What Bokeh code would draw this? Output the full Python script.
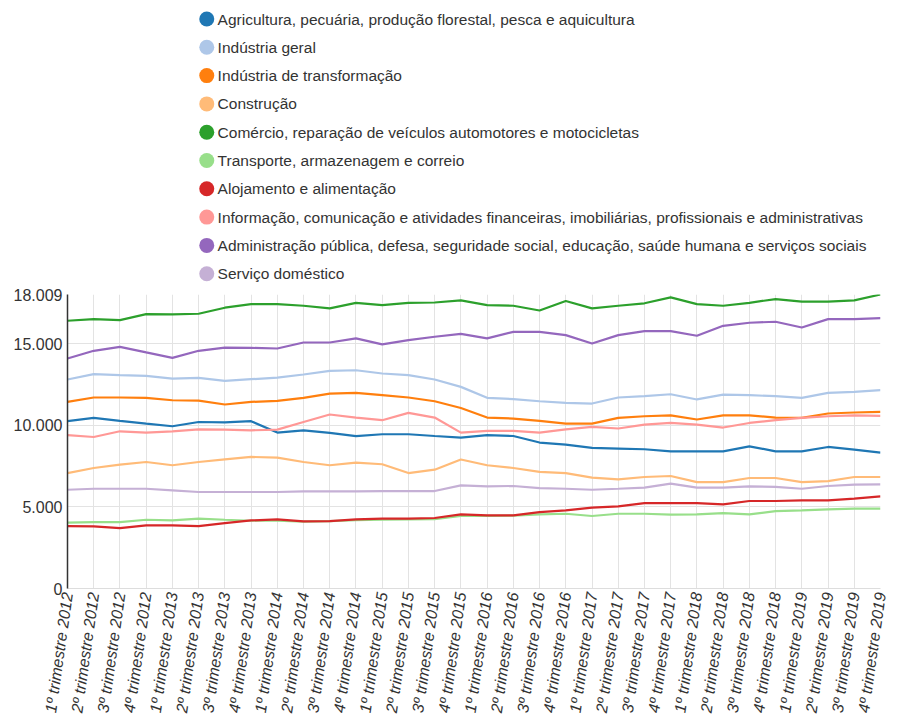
from bokeh.plotting import figure
from bokeh.models import FixedTicker, Range1d
from bokeh.layouts import column
from bokeh.embed import file_html
from bokeh.resources import INLINE
from bokeh.core.properties import value

quarters = [
    "1º trimestre 2012", "2º trimestre 2012", "3º trimestre 2012", "4º trimestre 2012",
    "1º trimestre 2013", "2º trimestre 2013", "3º trimestre 2013", "4º trimestre 2013",
    "1º trimestre 2014", "2º trimestre 2014", "3º trimestre 2014", "4º trimestre 2014",
    "1º trimestre 2015", "2º trimestre 2015", "3º trimestre 2015", "4º trimestre 2015",
    "1º trimestre 2016", "2º trimestre 2016", "3º trimestre 2016", "4º trimestre 2016",
    "1º trimestre 2017", "2º trimestre 2017", "3º trimestre 2017", "4º trimestre 2017",
    "1º trimestre 2018", "2º trimestre 2018", "3º trimestre 2018", "4º trimestre 2018",
    "1º trimestre 2019", "2º trimestre 2019", "3º trimestre 2019", "4º trimestre 2019",
]

series_names = [
    "Agricultura, pecuária, produção florestal, pesca e aquicultura",
    "Indústria geral",
    "Indústria de transformação",
    "Construção",
    "Comércio, reparação de veículos automotores e motocicletas",
    "Transporte, armazenagem e correio",
    "Alojamento e alimentação",
    "Informação, comunicação e atividades financeiras, imobiliárias, profissionais e administrativas",
    "Administração pública, defesa, seguridade social, educação, saúde humana e serviços sociais",
    "Serviço doméstico",
]

agricultura = [10250, 10450, 10270, 10100, 9940, 10200, 10170, 10250, 9550, 9690, 9530, 9330, 9450, 9450, 9340, 9240,
               9390, 9340, 8940, 8810, 8610, 8570, 8530, 8400, 8400, 8400, 8710, 8400, 8400, 8670, 8510, 8320]
industria_geral = [12800, 13130, 13070, 13030, 12860, 12900, 12720, 12820, 12920, 13110, 13330, 13370, 13170, 13070, 12800, 12350,
                   11680, 11600, 11470, 11370, 11330, 11700, 11780, 11900, 11580, 11880, 11840, 11780, 11680, 11980, 12040, 12150]
transformacao = [11430, 11700, 11700, 11680, 11530, 11510, 11270, 11430, 11490, 11680, 11940, 11980, 11840, 11700, 11470, 11060,
                 10470, 10410, 10270, 10100, 10100, 10450, 10550, 10610, 10350, 10610, 10610, 10470, 10450, 10720, 10780, 10820]
construcao = [7070, 7380, 7590, 7750, 7550, 7750, 7910, 8060, 8020, 7750, 7550, 7710, 7610, 7070, 7280, 7900,
              7550, 7380, 7140, 7070, 6790, 6690, 6830, 6890, 6520, 6520, 6770, 6770, 6520, 6580, 6830, 6830]
comercio = [16400, 16500, 16440, 16810, 16790, 16830, 17200, 17420, 17420, 17320, 17160, 17500, 17360, 17500, 17520, 17650,
            17360, 17320, 17030, 17610, 17160, 17320, 17470, 17830, 17420, 17320, 17500, 17730, 17570, 17570, 17650, 18009]
transporte = [4030, 4070, 4070, 4210, 4170, 4280, 4210, 4150, 4150, 4100, 4130, 4180, 4220, 4230, 4250, 4450,
              4450, 4460, 4540, 4580, 4440, 4580, 4580, 4520, 4540, 4620, 4540, 4740, 4790, 4850, 4890, 4890]
alojamento = [3820, 3800, 3700, 3870, 3870, 3820, 4010, 4170, 4230, 4110, 4130, 4230, 4280, 4280, 4320, 4540,
              4480, 4480, 4680, 4790, 4950, 5030, 5230, 5230, 5230, 5150, 5360, 5360, 5400, 5400, 5500, 5640]
informacao = [9390, 9280, 9630, 9550, 9630, 9750, 9730, 9690, 9730, 10200, 10660, 10470, 10310, 10760, 10470, 9550,
              9650, 9650, 9550, 9750, 9900, 9800, 10040, 10140, 10040, 9860, 10140, 10310, 10450, 10550, 10610, 10570]
administracao = [14090, 14560, 14800, 14460, 14130, 14560, 14760, 14740, 14700, 15070, 15070, 15320, 14950, 15210, 15420, 15600,
                 15320, 15720, 15720, 15520, 15010, 15520, 15770, 15770, 15480, 16090, 16280, 16340, 15990, 16500, 16500, 16560]
domestico = [6050, 6110, 6110, 6110, 6010, 5910, 5910, 5910, 5910, 5950, 5950, 5950, 5970, 5970, 5970, 6320,
             6260, 6280, 6150, 6110, 6050, 6110, 6180, 6420, 6180, 6180, 6260, 6220, 6110, 6280, 6360, 6380]

series_values = [agricultura, industria_geral, transformacao, construcao, comercio,
                 transporte, alojamento, informacao, administracao, domestico]
colors = ["#1f77b4", "#aec7e8", "#ff7f0e", "#ffbb78", "#2ca02c",
          "#98df8a", "#d62728", "#ff9896", "#9467bd", "#c5b0d5"]

y_ticks = [0, 5000, 10000, 15000, 18009]

FONT = "Liberation Sans"
TEXT = "#333333"
ANGLE = 1.43


def fmt(v):
    return f"{v:,}".replace(",", ".")


# ---------------- legend ----------------
LW, LH = 899, 285
leg = figure(width=LW, height=LH, x_range=Range1d(0, LW), y_range=Range1d(LH, 0),
             output_backend="svg", toolbar_location=None,
             x_axis_location=None, y_axis_location=None, min_border=0)
leg.grid.visible = False
leg.outline_line_color = None
row_y = [18.5 + 28.3 * i for i in range(len(series_names))]
leg.scatter(x=[154] * len(series_names), y=row_y, size=15, fill_color=colors, line_color=None)
leg.text(x=[166] * len(series_names), y=row_y, text=series_names, text_baseline="middle",
         text_font_size="15.5px", text_font=value(FONT), text_color=TEXT)

# ---------------- main chart ----------------
x = list(range(len(quarters)))
p = figure(width=899, height=439, x_range=Range1d(0, len(quarters) - 1), y_range=Range1d(0, max(y_ticks)),
           output_backend="svg", toolbar_location=None,
           min_border_left=67, min_border_right=19, min_border_top=9, min_border_bottom=136)
p.outline_line_color = None

for vals, c in zip(series_values, colors):
    p.line(x, vals, line_color=c, line_width=2.2)

xa = p.xaxis[0]
xa.ticker = FixedTicker(ticks=x)
xa.major_label_overrides = {i: q for i, q in enumerate(quarters)}
xa.major_label_orientation = ANGLE
xa.major_label_text_font = FONT
xa.major_label_text_font_size = "16px"
xa.major_label_text_font_style = "italic"
xa.major_label_text_color = TEXT
xa.major_tick_line_color = None
xa.major_tick_out = 0
xa.minor_tick_line_color = None
xa.axis_line_color = "#dddddd"
xa.major_label_standoff = 4

ya = p.yaxis[0]
ya.ticker = FixedTicker(ticks=y_ticks)
ya.major_label_overrides = {t: fmt(t) for t in y_ticks}
ya.major_label_text_font = FONT
ya.major_label_text_font_size = "16px"
ya.major_label_text_color = TEXT
ya.major_tick_line_color = None
ya.major_tick_out = 0
ya.minor_tick_line_color = None
ya.axis_line_color = "#333333"
ya.axis_line_width = 1.5
ya.major_label_standoff = 5

p.xgrid.grid_line_color = "#e3e3e3"
p.ygrid.grid_line_color = "#e3e3e3"
p.xgrid.ticker = FixedTicker(ticks=x)
p.ygrid.ticker = FixedTicker(ticks=y_ticks[1:-1])

layout = column(leg, p, spacing=0)
open("out.html", "w").write(file_html(layout, INLINE))
